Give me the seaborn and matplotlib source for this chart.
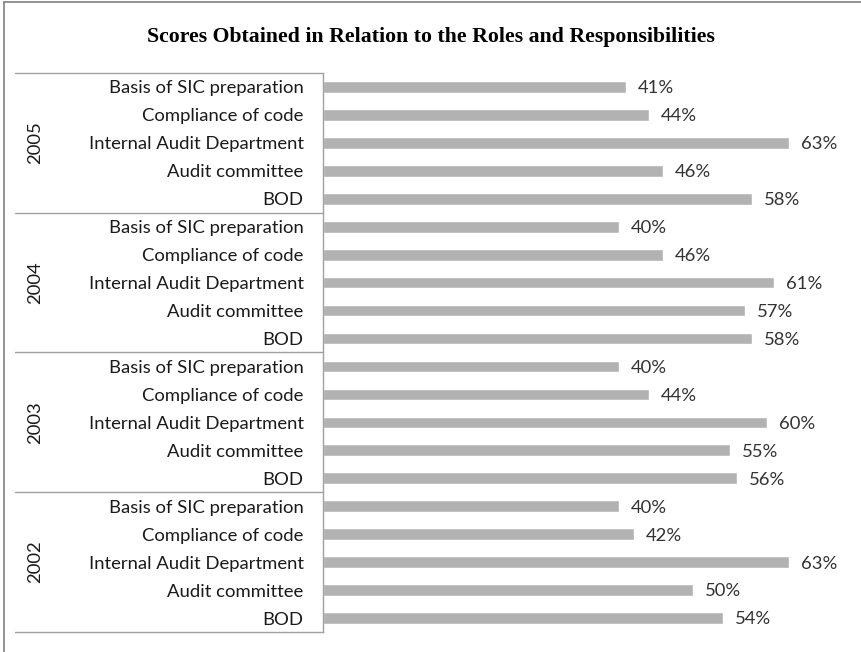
import numpy as np
import pandas as pd
import matplotlib
matplotlib.use('Agg')
from matplotlib import pyplot as plt
import seaborn as sns

# данные
years = ['2005', '2004', '2003', '2002']
roles = ['Basis of SIC preparation', 'Compliance of code', 'Internal Audit Department',
         'Audit committee', 'BOD']
scores_2005 = [41, 44, 63, 46, 58]
scores_2004 = [40, 46, 61, 57, 58]
scores_2003 = [40, 44, 60, 55, 56]
scores_2002 = [40, 42, 63, 50, 54]

rows = []
for yr, sc in zip(years, [scores_2005, scores_2004, scores_2003, scores_2002]):
    for r, v in zip(roles, sc):
        rows.append({'key': yr + '|' + r, 'year': yr, 'role': r, 'score': v})
df = pd.DataFrame(rows)

sns.set_theme(style='white')
plt.rcParams['font.family'] = ['Lato', 'DejaVu Sans']

W, H = 861, 652
fig = plt.figure(figsize=(W / 100, H / 100), dpi=100)
# axes box in pixels: left 323, top 73, bottom 632
ax = fig.add_axes([323 / W, 1 - 632 / H, (858 - 323) / W, (632 - 73) / H])

sns.barplot(data=df, x='score', y='key', order=df['key'].tolist(), orient='h',
            color='#b2b2b2', saturation=1, width=0.42, ax=ax)

ax.set_xlim(0, 72.3)
ax.set_ylim(len(df) - 0.5, -0.5)
ax.set_xlabel('')
ax.set_ylabel('')
ax.set_xticks([])
ax.set_yticklabels(df['role'], fontsize=13.3, color='#1a1a1a')
ax.tick_params(axis='y', length=0, pad=14)
for s in ['top', 'right', 'bottom']:
    ax.spines[s].set_visible(False)
ax.spines['left'].set_color('#a0a0a0')
ax.spines['left'].set_linewidth(1)

# подписи значений
for i, v in enumerate(df['score']):
    ax.text(v + 1.6, i + 0.05, f'{v}%', va='center', ha='left', fontsize=13.3, color='#333333')

# рамки групп и годы
x_left = (15 - 323) / (858 - 323)
trans = ax.get_yaxis_transform()
for g in range(len(years) + 1):
    yb = g * 5 - 0.5
    ax.plot([x_left, 0], [yb, yb], transform=trans, color='#a0a0a0', lw=1, clip_on=False)
for g, yr in enumerate(years):
    ax.text((35 - 323) / (858 - 323), g * 5 + 2, yr, transform=trans, rotation=90,
            va='center', ha='center', fontsize=13.3, color='#1a1a1a')

fig.text(0.5, 1 - 37 / H, 'Scores Obtained in Relation to the Roles and Responsibilities',
         ha='center', va='center', fontsize=15.7, fontweight='bold',
         family='Liberation Serif', color='#000000')

# внешняя рамка
fig.add_artist(plt.Line2D([4 / W, 4 / W], [0, 1 - 2 / H], color='#808080', lw=1.2))
fig.add_artist(plt.Line2D([4 / W, 1], [1 - 2 / H, 1 - 2 / H], color='#808080', lw=1.2))

fig.savefig('out.png', dpi=100)
